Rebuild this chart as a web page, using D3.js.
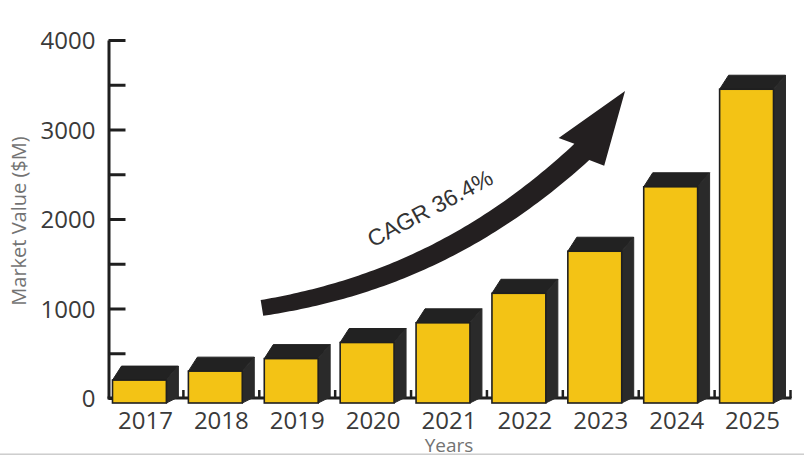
<!DOCTYPE html>
<html>
<head>
<meta charset="utf-8">
<script src="https://cdn.jsdelivr.net/npm/d3@7"></script>
<style>
  html, body { margin: 0; padding: 0; background: #fff; }
  svg { display: block; }
</style>
</head>
<body>
<svg id="chart" width="804" height="456"></svg>
<script>
// Market value by year ($M)
const years  = ["2017", "2018", "2019", "2020", "2021", "2022", "2023", "2024", "2025"];
const values = [200, 300, 440, 620, 840, 1170, 1640, 2360, 3450];
const yTickValues = [0, 1000, 2000, 3000, 4000];
const yMinorValues = [500, 1500, 2500, 3500];
const cagrLabel = "CAGR 36.4%";

const W = 804, H = 456;
const svg = d3.select("#chart");

const y = d3.scaleLinear().domain([0, 4000]).range([398, 40]);
const x = d3.scaleBand().domain(years).range([107.5, 790.5])
  .paddingInner(0.29).paddingOuter(0.145);
// continuous version of the band axis (in band-index units) for the trend arrow
const xi = d3.scaleLinear().domain([0, years.length]).range(x.range());

const dx = 12, dy = 14;          // 3D depth offset of the boxes
const yellow = "#f3c315";
const dark = "#1f1f1f";

// ---- Y axis ----
const yAxis = d3.axisLeft(y)
  .tickValues(yTickValues.concat(yMinorValues).sort((a, b) => a - b))
  .tickSizeInner(-17).tickSizeOuter(0).tickPadding(13)
  .tickFormat(d => yTickValues.includes(d) ? d : "");
const gy = svg.append("g").attr("transform", "translate(108.5,0)").call(yAxis);
gy.select(".domain").attr("stroke", dark).attr("stroke-width", 3);
gy.selectAll(".tick line").attr("stroke", dark).attr("stroke-width", 3);
gy.selectAll(".tick text")
  .attr("font-family", "'Open Sans', sans-serif").attr("font-size", 24)
  .attr("fill", "#3a3a3a").attr("dy", "0.36em");
gy.attr("font-family", null).attr("font-size", null);

// ---- X baseline with boundary ticks ----
svg.append("line")
  .attr("x1", 107.5).attr("x2", x.range()[1] + 1)
  .attr("y1", y(0)).attr("y2", y(0))
  .attr("stroke", dark).attr("stroke-width", 3);
const gap = (x.step() - x.bandwidth()) / 2;
svg.append("g").selectAll("line").data(years).join("line")
  .attr("x1", d => x(d) + x.bandwidth() + gap)
  .attr("x2", d => x(d) + x.bandwidth() + gap)
  .attr("y1", y(0)).attr("y2", y(0) - 8)
  .attr("stroke", dark).attr("stroke-width", 2.5);

// ---- 3D bars ----
const bars = svg.append("g").selectAll("g").data(years.map((d, i) => ({ year: d, value: values[i] })))
  .join("g");

bars.each(function (d) {
  const g = d3.select(this);
  const x0 = x(d.year) - dx / 2;
  const x1 = x0 + x.bandwidth();
  const yt = y(d.value);
  const yb = y(0) + 5;
  // top face
  g.append("polygon")
    .attr("points", [[x0, yt], [x0 + dx - 3, yt - dy], [x1 + dx, yt - dy], [x1, yt]].join(" "))
    .attr("fill", "#222222").attr("stroke", "#222222").attr("stroke-width", 1);
  // side face
  g.append("polygon")
    .attr("points", [[x1, yt], [x1 + dx, yt - dy], [x1 + dx, y(0) - 1], [x1, yb]].join(" "))
    .attr("fill", "#2a2a2a").attr("stroke", "#2a2a2a").attr("stroke-width", 1);
  // front face
  g.append("rect")
    .attr("x", x0).attr("y", yt)
    .attr("width", x.bandwidth()).attr("height", yb - yt)
    .attr("fill", yellow).attr("stroke", dark).attr("stroke-width", 1.6);
});

// ---- X labels ----
svg.append("g").selectAll("text").data(years).join("text")
  .attr("x", d => x(d) + x.bandwidth() / 2)
  .attr("y", 429)
  .attr("text-anchor", "middle")
  .attr("font-family", "'Open Sans', sans-serif").attr("font-size", 24)
  .attr("fill", "#3a3a3a")
  .text(d => d);

// ---- Axis titles ----
svg.append("text")
  .attr("transform", "translate(26,221) rotate(-90)")
  .attr("text-anchor", "middle")
  .attr("font-family", "'Open Sans', sans-serif").attr("font-size", 20)
  .attr("fill", "#737373")
  .text("Market Value ($M)");

svg.append("text")
  .attr("x", (x.range()[0] + x.range()[1]) / 2)
  .attr("y", 452)
  .attr("text-anchor", "middle")
  .attr("font-family", "'Open Sans', sans-serif").attr("font-size", 19)
  .attr("fill", "#737373")
  .text("Years");

// ---- Growth arrow (cubic centerline, tapered shaft, swept head) ----
const P = [[2.035, 1006], [3.327, 1184], [4.776, 1598], [6.25, 2749]]
  .map(([i, v]) => [xi(i), y(v)]);
const tip = [xi(6.82), y(3430)];
const barbL = [xi(5.945), y(2905)];
const barbR = [xi(6.545), y(2595)];

function cubic(t) {
  const u = 1 - t;
  const a = u * u * u, b = 3 * u * u * t, c = 3 * u * t * t, e = t * t * t;
  return [a * P[0][0] + b * P[1][0] + c * P[2][0] + e * P[3][0],
          a * P[0][1] + b * P[1][1] + c * P[2][1] + e * P[3][1]];
}
function cubicD(t) {
  const u = 1 - t;
  const a = 3 * u * u, b = 6 * u * t, c = 3 * t * t;
  return [a * (P[1][0] - P[0][0]) + b * (P[2][0] - P[1][0]) + c * (P[3][0] - P[2][0]),
          a * (P[1][1] - P[0][1]) + b * (P[2][1] - P[1][1]) + c * (P[3][1] - P[2][1])];
}
const N = 80, upper = [], lower = [];
for (let k = 0; k <= N; k++) {
  const t = k / N;
  const [cx, cy] = cubic(t);
  let [tx, ty] = cubicD(t);
  const len = Math.hypot(tx, ty); tx /= len; ty /= len;
  const w = 8 + 3 * t;
  upper.push([cx + ty * w, cy - tx * w]);
  lower.push([cx - ty * w, cy + tx * w]);
}
const arrowPts = upper.concat([barbL, tip, barbR], lower.reverse());
svg.append("path")
  .attr("d", d3.line()(arrowPts) + "Z")
  .attr("fill", "#231f20");

svg.append("text")
  .attr("transform", `translate(${xi(4.3)},${y(2040)}) rotate(-28)`)
  .attr("text-anchor", "middle")
  .attr("font-family", "'Liberation Sans', Arial, sans-serif").attr("font-size", 23)
  .attr("fill", "#333")
  .text(cagrLabel);

// ---- bottom frame line ----
svg.append("rect").attr("x", 0).attr("y", 453.5).attr("width", W).attr("height", 1.4).attr("fill", "#c9c9c9");
</script>
</body>
</html>
